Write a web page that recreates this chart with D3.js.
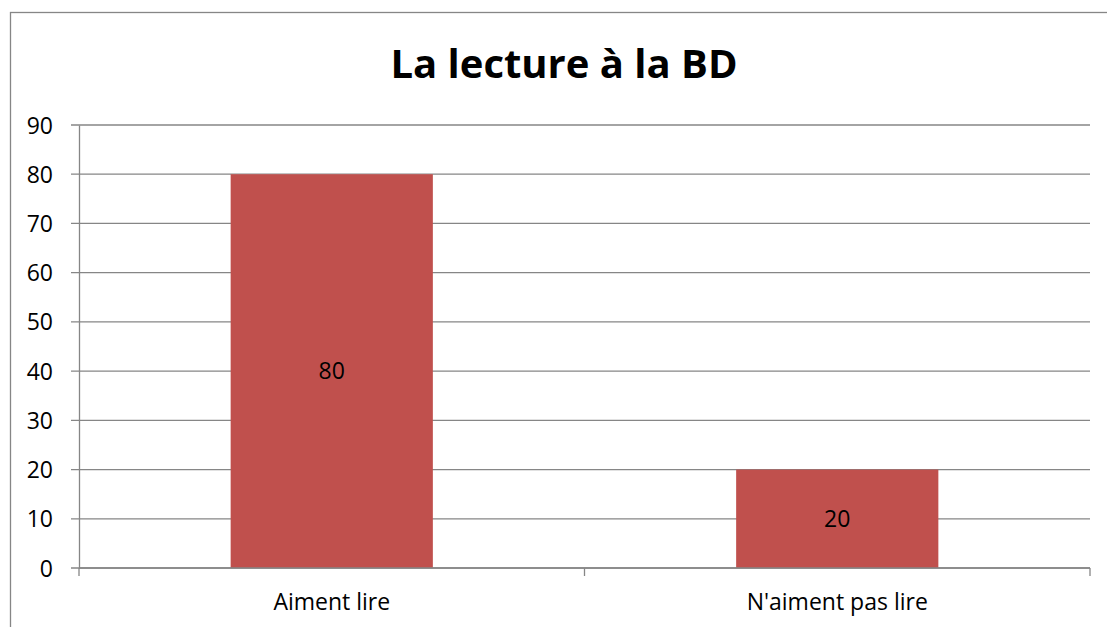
<!DOCTYPE html>
<html><head><meta charset="utf-8">
<script src="https://cdn.jsdelivr.net/npm/d3@7"></script>
<style>body{margin:0;background:#fff}svg{display:block}text{font-family:"Open Sans","Noto Sans",sans-serif}</style>
</head><body>
<svg id="c" width="1107" height="627"></svg>
<script>
const categories = ["Aiment lire", "N'aiment pas lire"];
const values = [80, 20];
const yTicks = [0,10,20,30,40,50,60,70,80,90];
const title = "La lecture à la BD";

const svg = d3.select("#c");
const m = {left:79, right:1090, top:125, bottom:568};
const fs = 23;
// outer border
svg.append("rect").attr("x",10.5).attr("y",12.5).attr("width",1110).attr("height",630)
  .attr("fill","none").attr("stroke","#868686").attr("stroke-width",1.3);

const x = d3.scaleBand().domain(categories).range([m.left,m.right]).paddingInner(0.6).paddingOuter(0.3);
const y = d3.scaleLinear().domain([0,90]).range([m.bottom,m.top]);

// gridlines
svg.append("g").selectAll("line").data(yTicks).join("line")
  .attr("x1",71).attr("x2",m.right).attr("y1",d=>y(d)).attr("y2",d=>y(d))
  .attr("stroke","#868686").attr("stroke-width",1.3);

// bars
svg.append("g").selectAll("rect").data(values).join("rect")
  .attr("x",(d,i)=>x(categories[i])).attr("width",x.bandwidth())
  .attr("y",d=>y(d)).attr("height",d=>y(0)-y(d)).attr("fill","#C0504D");

// y axis
const ya = svg.append("g").attr("transform",`translate(${m.left},0)`)
  .call(d3.axisLeft(y).tickValues(yTicks).tickSize(0));
ya.select(".domain").attr("stroke","#868686").attr("stroke-width",1.3);
ya.selectAll("text").attr("font-size",fs).attr("fill","#000").attr("font-family","'Open Sans',sans-serif").attr("dy","0.35em").attr("x",-26);

// x axis
const xa = svg.append("g").attr("transform",`translate(0,${m.bottom})`)
  .call(d3.axisBottom(x).tickSize(0).tickPadding(26));
xa.select(".domain").remove();
svg.append("line").attr("x1",m.left).attr("x2",m.right).attr("y1",m.bottom).attr("y2",m.bottom)
  .attr("stroke","#868686").attr("stroke-width",1.3);
const edges = [m.left, (m.left+m.right)/2, m.right];
svg.append("g").selectAll("line").data(edges).join("line")
  .attr("x1",d=>d).attr("x2",d=>d).attr("y1",m.bottom).attr("y2",m.bottom+8)
  .attr("stroke","#868686").attr("stroke-width",1.3);
xa.selectAll("text").attr("font-size",fs).attr("fill","#000").attr("font-family","'Open Sans',sans-serif").attr("dy","0.71em");

// data labels
svg.append("g").selectAll("text").data(values).join("text")
  .attr("x",(d,i)=>x(categories[i])+x.bandwidth()/2)
  .attr("y",d=>(y(d)+y(0))/2).attr("dy","0.35em")
  .attr("text-anchor","middle").attr("font-size",fs).attr("fill","#000").text(d=>d);

// title
svg.append("text").attr("x",564).attr("y",78).attr("text-anchor","middle")
  .attr("font-size",40).attr("font-weight","bold").attr("fill","#000").text(title);
</script>
</body></html>
